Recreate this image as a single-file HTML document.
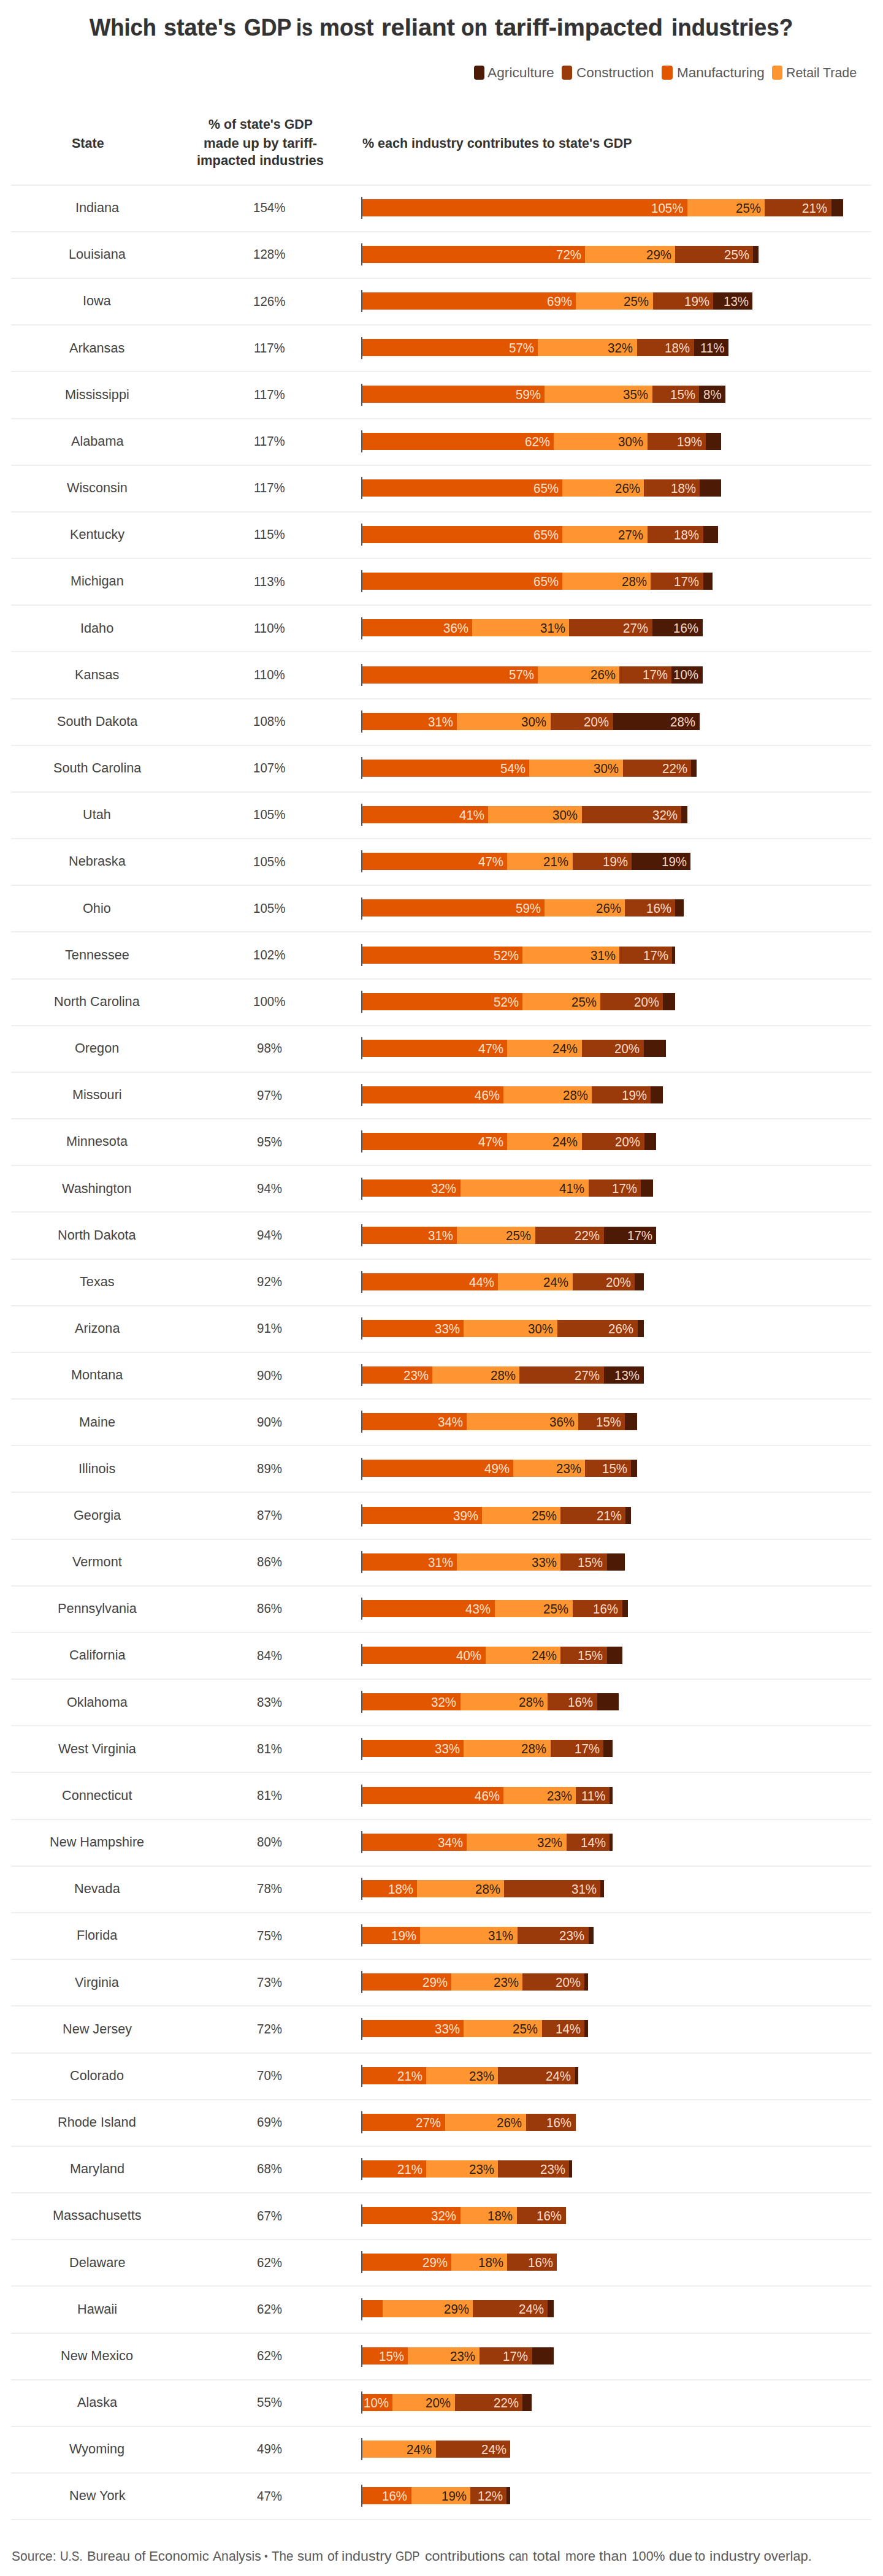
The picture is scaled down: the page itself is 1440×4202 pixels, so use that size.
<!DOCTYPE html>
<html><head><meta charset="utf-8"><style>
html,body{margin:0;padding:0;background:#fff;}
body{width:1440px;height:4202px;position:relative;overflow:hidden;font-family:"Liberation Sans",sans-serif;}
.t{position:absolute;white-space:nowrap;transform-origin:0 0;}
.sw{position:absolute;border-radius:4px;}
.sep{position:absolute;left:18px;width:1403px;height:2px;background:#efefef;}
.seg{position:absolute;height:28px;}
.tick{position:absolute;left:589px;width:2px;height:36px;background:#555;}
#wrap{position:absolute;left:0;top:0;width:1440px;height:4202px;}
</style></head><body><div id="wrap">
<div class="t" style="left:145.80px;top:25.39px;font-size:39px;line-height:39px;font-weight:700;color:#333;transform:scaleX(0.9316);-webkit-text-stroke:0.3px #333;">Which</div>
<div class="t" style="left:267.40px;top:25.39px;font-size:39px;line-height:39px;font-weight:700;color:#333;transform:scaleX(0.9664);-webkit-text-stroke:0.3px #333;">state's</div>
<div class="t" style="left:397.50px;top:25.39px;font-size:39px;line-height:39px;font-weight:700;color:#333;transform:scaleX(0.9160);-webkit-text-stroke:0.3px #333;">GDP</div>
<div class="t" style="left:483.40px;top:25.39px;font-size:39px;line-height:39px;font-weight:700;color:#333;transform:scaleX(0.8369);-webkit-text-stroke:0.3px #333;">is</div>
<div class="t" style="left:520.80px;top:25.39px;font-size:39px;line-height:39px;font-weight:700;color:#333;transform:scaleX(0.9485);-webkit-text-stroke:0.3px #333;">most</div>
<div class="t" style="left:621.90px;top:25.39px;font-size:39px;line-height:39px;font-weight:700;color:#333;transform:scaleX(1.0239);-webkit-text-stroke:0.3px #333;">reliant</div>
<div class="t" style="left:752.00px;top:25.39px;font-size:39px;line-height:39px;font-weight:700;color:#333;transform:scaleX(0.9034);-webkit-text-stroke:0.3px #333;">on</div>
<div class="t" style="left:807.20px;top:25.39px;font-size:39px;line-height:39px;font-weight:700;color:#333;transform:scaleX(1.0114);-webkit-text-stroke:0.3px #333;">tariff-impacted</div>
<div class="t" style="left:1094.80px;top:25.39px;font-size:39px;line-height:39px;font-weight:700;color:#333;transform:scaleX(0.9429);-webkit-text-stroke:0.3px #333;">industries?</div>
<div class="sw" style="left:772.6px;top:107.3px;width:17.5px;height:22.6px;background:#4c1a05"></div>
<div class="t" style="left:794.90px;top:108.08px;font-size:22px;line-height:22px;font-weight:400;color:#595959;transform:scaleX(1.0333);">Agriculture</div>
<div class="sw" style="left:915.6px;top:107.3px;width:17.5px;height:22.6px;background:#9a3a0b"></div>
<div class="t" style="left:940.10px;top:108.08px;font-size:22px;line-height:22px;font-weight:400;color:#595959;transform:scaleX(1.0219);">Construction</div>
<div class="sw" style="left:1079.0px;top:107.3px;width:17.5px;height:22.6px;background:#e25600"></div>
<div class="t" style="left:1103.50px;top:108.08px;font-size:22px;line-height:22px;font-weight:400;color:#595959;transform:scaleX(1.0237);">Manufacturing</div>
<div class="sw" style="left:1258.6px;top:107.3px;width:17.5px;height:22.6px;background:#fe9530"></div>
<div class="t" style="left:1282.40px;top:108.08px;font-size:22px;line-height:22px;font-weight:400;color:#595959;transform:scaleX(0.9696);">Retail Trade</div>
<div class="t" style="left:117.20px;top:222.98px;font-size:22px;line-height:22px;font-weight:700;color:#333;transform:scaleX(0.9777);">State</div>
<div class="t" style="left:339.80px;top:192.48px;font-size:22px;line-height:22px;font-weight:700;color:#333;transform:scaleX(0.9697);">% of state's GDP</div>
<div class="t" style="left:331.80px;top:222.78px;font-size:22px;line-height:22px;font-weight:700;color:#333;transform:scaleX(1.0033);">made up by tariff-</div>
<div class="t" style="left:321.20px;top:251.38px;font-size:22px;line-height:22px;font-weight:700;color:#333;transform:scaleX(0.9952);">impacted industries</div>
<div class="t" style="left:590.60px;top:222.78px;font-size:22px;line-height:22px;font-weight:700;color:#333;transform:scaleX(0.9765);">% each industry contributes to state's GDP</div>
<div class="sep" style="top:300.70px"></div>
<div class="t" style="left:122.74px;top:328.08px;font-size:22px;line-height:22px;font-weight:400;color:#444;transform:scaleX(0.9850);">Indiana</div>
<div class="t" style="left:413.22px;top:328.28px;font-size:22px;line-height:22px;font-weight:400;color:#444;transform:scaleX(0.9300);">154%</div>
<div class="seg" style="left:591px;top:324.80px;width:784.00px;background:#4c1a05"></div>
<div class="seg" style="left:591px;top:324.80px;width:764.50px;background:#9a3a0b"></div>
<div class="seg" style="left:591px;top:324.80px;width:656.00px;background:#fe9530"></div>
<div class="seg" style="left:591px;top:324.80px;width:530.00px;background:#e25600"></div>
<div class="t" style="left:1062.14px;top:328.78px;font-size:22px;line-height:22px;font-weight:400;color:#fde2cf;transform:scaleX(0.9300);">105%</div>
<div class="t" style="left:1199.58px;top:328.78px;font-size:22px;line-height:22px;font-weight:400;color:#2e1e0e;transform:scaleX(0.9300);">25%</div>
<div class="t" style="left:1308.08px;top:328.78px;font-size:22px;line-height:22px;font-weight:400;color:#fcdcc8;transform:scaleX(0.9300);">21%</div>
<div class="tick" style="top:321.00px"></div>
<div class="sep" style="top:376.87px"></div>
<div class="t" style="left:111.86px;top:404.25px;font-size:22px;line-height:22px;font-weight:400;color:#444;transform:scaleX(0.9850);">Louisiana</div>
<div class="t" style="left:413.22px;top:404.45px;font-size:22px;line-height:22px;font-weight:400;color:#444;transform:scaleX(0.9300);">128%</div>
<div class="seg" style="left:591px;top:400.97px;width:645.50px;background:#4c1a05"></div>
<div class="seg" style="left:591px;top:400.97px;width:637.00px;background:#9a3a0b"></div>
<div class="seg" style="left:591px;top:400.97px;width:510.00px;background:#fe9530"></div>
<div class="seg" style="left:591px;top:400.97px;width:363.00px;background:#e25600"></div>
<div class="t" style="left:906.58px;top:404.95px;font-size:22px;line-height:22px;font-weight:400;color:#fde2cf;transform:scaleX(0.9300);">72%</div>
<div class="t" style="left:1053.58px;top:404.95px;font-size:22px;line-height:22px;font-weight:400;color:#2e1e0e;transform:scaleX(0.9300);">29%</div>
<div class="t" style="left:1180.58px;top:404.95px;font-size:22px;line-height:22px;font-weight:400;color:#fcdcc8;transform:scaleX(0.9300);">25%</div>
<div class="tick" style="top:397.17px"></div>
<div class="sep" style="top:453.04px"></div>
<div class="t" style="left:135.40px;top:480.42px;font-size:22px;line-height:22px;font-weight:400;color:#444;transform:scaleX(0.9850);">Iowa</div>
<div class="t" style="left:413.22px;top:480.62px;font-size:22px;line-height:22px;font-weight:400;color:#444;transform:scaleX(0.9300);">126%</div>
<div class="seg" style="left:591px;top:477.14px;width:636.00px;background:#4c1a05"></div>
<div class="seg" style="left:591px;top:477.14px;width:572.00px;background:#9a3a0b"></div>
<div class="seg" style="left:591px;top:477.14px;width:473.70px;background:#fe9530"></div>
<div class="seg" style="left:591px;top:477.14px;width:348.00px;background:#e25600"></div>
<div class="t" style="left:891.58px;top:481.12px;font-size:22px;line-height:22px;font-weight:400;color:#fde2cf;transform:scaleX(0.9300);">69%</div>
<div class="t" style="left:1017.28px;top:481.12px;font-size:22px;line-height:22px;font-weight:400;color:#2e1e0e;transform:scaleX(0.9300);">25%</div>
<div class="t" style="left:1115.58px;top:481.12px;font-size:22px;line-height:22px;font-weight:400;color:#fcdcc8;transform:scaleX(0.9300);">19%</div>
<div class="t" style="left:1179.58px;top:481.12px;font-size:22px;line-height:22px;font-weight:400;color:#f5d6c4;transform:scaleX(0.9300);">13%</div>
<div class="tick" style="top:473.34px"></div>
<div class="sep" style="top:529.21px"></div>
<div class="t" style="left:113.14px;top:556.59px;font-size:22px;line-height:22px;font-weight:400;color:#444;transform:scaleX(0.9850);">Arkansas</div>
<div class="t" style="left:414.01px;top:556.79px;font-size:22px;line-height:22px;font-weight:400;color:#444;transform:scaleX(0.9300);">117%</div>
<div class="seg" style="left:591px;top:553.31px;width:597.00px;background:#4c1a05"></div>
<div class="seg" style="left:591px;top:553.31px;width:540.60px;background:#9a3a0b"></div>
<div class="seg" style="left:591px;top:553.31px;width:447.70px;background:#fe9530"></div>
<div class="seg" style="left:591px;top:553.31px;width:286.00px;background:#e25600"></div>
<div class="t" style="left:829.58px;top:557.29px;font-size:22px;line-height:22px;font-weight:400;color:#fde2cf;transform:scaleX(0.9300);">57%</div>
<div class="t" style="left:991.28px;top:557.29px;font-size:22px;line-height:22px;font-weight:400;color:#2e1e0e;transform:scaleX(0.9300);">32%</div>
<div class="t" style="left:1084.18px;top:557.29px;font-size:22px;line-height:22px;font-weight:400;color:#fcdcc8;transform:scaleX(0.9300);">18%</div>
<div class="t" style="left:1142.07px;top:557.29px;font-size:22px;line-height:22px;font-weight:400;color:#f5d6c4;transform:scaleX(0.9300);">11%</div>
<div class="tick" style="top:549.51px"></div>
<div class="sep" style="top:605.38px"></div>
<div class="t" style="left:105.95px;top:632.76px;font-size:22px;line-height:22px;font-weight:400;color:#444;transform:scaleX(0.9850);">Mississippi</div>
<div class="t" style="left:414.01px;top:632.96px;font-size:22px;line-height:22px;font-weight:400;color:#444;transform:scaleX(0.9300);">117%</div>
<div class="seg" style="left:591px;top:629.48px;width:591.70px;background:#4c1a05"></div>
<div class="seg" style="left:591px;top:629.48px;width:549.00px;background:#9a3a0b"></div>
<div class="seg" style="left:591px;top:629.48px;width:472.80px;background:#fe9530"></div>
<div class="seg" style="left:591px;top:629.48px;width:297.00px;background:#e25600"></div>
<div class="t" style="left:840.58px;top:633.46px;font-size:22px;line-height:22px;font-weight:400;color:#fde2cf;transform:scaleX(0.9300);">59%</div>
<div class="t" style="left:1016.38px;top:633.46px;font-size:22px;line-height:22px;font-weight:400;color:#2e1e0e;transform:scaleX(0.9300);">35%</div>
<div class="t" style="left:1092.58px;top:633.46px;font-size:22px;line-height:22px;font-weight:400;color:#fcdcc8;transform:scaleX(0.9300);">15%</div>
<div class="t" style="left:1146.63px;top:633.46px;font-size:22px;line-height:22px;font-weight:400;color:#f5d6c4;transform:scaleX(0.9300);">8%</div>
<div class="tick" style="top:625.68px"></div>
<div class="sep" style="top:681.55px"></div>
<div class="t" style="left:115.50px;top:708.93px;font-size:22px;line-height:22px;font-weight:400;color:#444;transform:scaleX(0.9850);">Alabama</div>
<div class="t" style="left:414.01px;top:709.13px;font-size:22px;line-height:22px;font-weight:400;color:#444;transform:scaleX(0.9300);">117%</div>
<div class="seg" style="left:591px;top:705.65px;width:585.00px;background:#4c1a05"></div>
<div class="seg" style="left:591px;top:705.65px;width:560.00px;background:#9a3a0b"></div>
<div class="seg" style="left:591px;top:705.65px;width:464.50px;background:#fe9530"></div>
<div class="seg" style="left:591px;top:705.65px;width:312.00px;background:#e25600"></div>
<div class="t" style="left:855.58px;top:709.63px;font-size:22px;line-height:22px;font-weight:400;color:#fde2cf;transform:scaleX(0.9300);">62%</div>
<div class="t" style="left:1008.08px;top:709.63px;font-size:22px;line-height:22px;font-weight:400;color:#2e1e0e;transform:scaleX(0.9300);">30%</div>
<div class="t" style="left:1103.58px;top:709.63px;font-size:22px;line-height:22px;font-weight:400;color:#fcdcc8;transform:scaleX(0.9300);">19%</div>
<div class="tick" style="top:701.85px"></div>
<div class="sep" style="top:757.72px"></div>
<div class="t" style="left:108.95px;top:785.10px;font-size:22px;line-height:22px;font-weight:400;color:#444;transform:scaleX(0.9850);">Wisconsin</div>
<div class="t" style="left:414.01px;top:785.30px;font-size:22px;line-height:22px;font-weight:400;color:#444;transform:scaleX(0.9300);">117%</div>
<div class="seg" style="left:591px;top:781.82px;width:585.00px;background:#4c1a05"></div>
<div class="seg" style="left:591px;top:781.82px;width:550.00px;background:#9a3a0b"></div>
<div class="seg" style="left:591px;top:781.82px;width:459.00px;background:#fe9530"></div>
<div class="seg" style="left:591px;top:781.82px;width:326.00px;background:#e25600"></div>
<div class="t" style="left:869.58px;top:785.80px;font-size:22px;line-height:22px;font-weight:400;color:#fde2cf;transform:scaleX(0.9300);">65%</div>
<div class="t" style="left:1002.58px;top:785.80px;font-size:22px;line-height:22px;font-weight:400;color:#2e1e0e;transform:scaleX(0.9300);">26%</div>
<div class="t" style="left:1093.58px;top:785.80px;font-size:22px;line-height:22px;font-weight:400;color:#fcdcc8;transform:scaleX(0.9300);">18%</div>
<div class="tick" style="top:778.02px"></div>
<div class="sep" style="top:833.89px"></div>
<div class="t" style="left:113.73px;top:861.27px;font-size:22px;line-height:22px;font-weight:400;color:#444;transform:scaleX(0.9850);">Kentucky</div>
<div class="t" style="left:414.01px;top:861.47px;font-size:22px;line-height:22px;font-weight:400;color:#444;transform:scaleX(0.9300);">115%</div>
<div class="seg" style="left:591px;top:857.99px;width:579.60px;background:#4c1a05"></div>
<div class="seg" style="left:591px;top:857.99px;width:555.50px;background:#9a3a0b"></div>
<div class="seg" style="left:591px;top:857.99px;width:464.50px;background:#fe9530"></div>
<div class="seg" style="left:591px;top:857.99px;width:326.00px;background:#e25600"></div>
<div class="t" style="left:869.58px;top:861.97px;font-size:22px;line-height:22px;font-weight:400;color:#fde2cf;transform:scaleX(0.9300);">65%</div>
<div class="t" style="left:1008.08px;top:861.97px;font-size:22px;line-height:22px;font-weight:400;color:#2e1e0e;transform:scaleX(0.9300);">27%</div>
<div class="t" style="left:1099.08px;top:861.97px;font-size:22px;line-height:22px;font-weight:400;color:#fcdcc8;transform:scaleX(0.9300);">18%</div>
<div class="tick" style="top:854.19px"></div>
<div class="sep" style="top:910.06px"></div>
<div class="t" style="left:114.96px;top:937.44px;font-size:22px;line-height:22px;font-weight:400;color:#444;transform:scaleX(0.9850);">Michigan</div>
<div class="t" style="left:414.01px;top:937.64px;font-size:22px;line-height:22px;font-weight:400;color:#444;transform:scaleX(0.9300);">113%</div>
<div class="seg" style="left:591px;top:934.16px;width:571.00px;background:#4c1a05"></div>
<div class="seg" style="left:591px;top:934.16px;width:555.50px;background:#9a3a0b"></div>
<div class="seg" style="left:591px;top:934.16px;width:470.00px;background:#fe9530"></div>
<div class="seg" style="left:591px;top:934.16px;width:326.00px;background:#e25600"></div>
<div class="t" style="left:869.58px;top:938.14px;font-size:22px;line-height:22px;font-weight:400;color:#fde2cf;transform:scaleX(0.9300);">65%</div>
<div class="t" style="left:1013.58px;top:938.14px;font-size:22px;line-height:22px;font-weight:400;color:#2e1e0e;transform:scaleX(0.9300);">28%</div>
<div class="t" style="left:1099.08px;top:938.14px;font-size:22px;line-height:22px;font-weight:400;color:#fcdcc8;transform:scaleX(0.9300);">17%</div>
<div class="tick" style="top:930.36px"></div>
<div class="sep" style="top:986.23px"></div>
<div class="t" style="left:131.16px;top:1013.61px;font-size:22px;line-height:22px;font-weight:400;color:#444;transform:scaleX(0.9850);">Idaho</div>
<div class="t" style="left:414.01px;top:1013.81px;font-size:22px;line-height:22px;font-weight:400;color:#444;transform:scaleX(0.9300);">110%</div>
<div class="seg" style="left:591px;top:1010.33px;width:554.50px;background:#4c1a05"></div>
<div class="seg" style="left:591px;top:1010.33px;width:472.80px;background:#9a3a0b"></div>
<div class="seg" style="left:591px;top:1010.33px;width:337.00px;background:#fe9530"></div>
<div class="seg" style="left:591px;top:1010.33px;width:179.40px;background:#e25600"></div>
<div class="t" style="left:722.98px;top:1014.31px;font-size:22px;line-height:22px;font-weight:400;color:#fde2cf;transform:scaleX(0.9300);">36%</div>
<div class="t" style="left:880.58px;top:1014.31px;font-size:22px;line-height:22px;font-weight:400;color:#2e1e0e;transform:scaleX(0.9300);">31%</div>
<div class="t" style="left:1016.38px;top:1014.31px;font-size:22px;line-height:22px;font-weight:400;color:#fcdcc8;transform:scaleX(0.9300);">27%</div>
<div class="t" style="left:1098.08px;top:1014.31px;font-size:22px;line-height:22px;font-weight:400;color:#f5d6c4;transform:scaleX(0.9300);">16%</div>
<div class="tick" style="top:1006.53px"></div>
<div class="sep" style="top:1062.40px"></div>
<div class="t" style="left:122.15px;top:1089.78px;font-size:22px;line-height:22px;font-weight:400;color:#444;transform:scaleX(0.9850);">Kansas</div>
<div class="t" style="left:414.01px;top:1089.98px;font-size:22px;line-height:22px;font-weight:400;color:#444;transform:scaleX(0.9300);">110%</div>
<div class="seg" style="left:591px;top:1086.50px;width:554.50px;background:#4c1a05"></div>
<div class="seg" style="left:591px;top:1086.50px;width:504.40px;background:#9a3a0b"></div>
<div class="seg" style="left:591px;top:1086.50px;width:419.00px;background:#fe9530"></div>
<div class="seg" style="left:591px;top:1086.50px;width:286.00px;background:#e25600"></div>
<div class="t" style="left:829.58px;top:1090.48px;font-size:22px;line-height:22px;font-weight:400;color:#fde2cf;transform:scaleX(0.9300);">57%</div>
<div class="t" style="left:962.58px;top:1090.48px;font-size:22px;line-height:22px;font-weight:400;color:#2e1e0e;transform:scaleX(0.9300);">26%</div>
<div class="t" style="left:1047.98px;top:1090.48px;font-size:22px;line-height:22px;font-weight:400;color:#fcdcc8;transform:scaleX(0.9300);">17%</div>
<div class="t" style="left:1098.08px;top:1090.48px;font-size:22px;line-height:22px;font-weight:400;color:#f5d6c4;transform:scaleX(0.9300);">10%</div>
<div class="tick" style="top:1082.70px"></div>
<div class="sep" style="top:1138.57px"></div>
<div class="t" style="left:92.60px;top:1165.95px;font-size:22px;line-height:22px;font-weight:400;color:#444;transform:scaleX(0.9850);">South Dakota</div>
<div class="t" style="left:413.22px;top:1166.15px;font-size:22px;line-height:22px;font-weight:400;color:#444;transform:scaleX(0.9300);">108%</div>
<div class="seg" style="left:591px;top:1162.67px;width:549.80px;background:#4c1a05"></div>
<div class="seg" style="left:591px;top:1162.67px;width:408.70px;background:#9a3a0b"></div>
<div class="seg" style="left:591px;top:1162.67px;width:306.60px;background:#fe9530"></div>
<div class="seg" style="left:591px;top:1162.67px;width:154.30px;background:#e25600"></div>
<div class="t" style="left:697.88px;top:1166.65px;font-size:22px;line-height:22px;font-weight:400;color:#fde2cf;transform:scaleX(0.9300);">31%</div>
<div class="t" style="left:850.18px;top:1166.65px;font-size:22px;line-height:22px;font-weight:400;color:#2e1e0e;transform:scaleX(0.9300);">30%</div>
<div class="t" style="left:952.28px;top:1166.65px;font-size:22px;line-height:22px;font-weight:400;color:#fcdcc8;transform:scaleX(0.9300);">20%</div>
<div class="t" style="left:1093.38px;top:1166.65px;font-size:22px;line-height:22px;font-weight:400;color:#f5d6c4;transform:scaleX(0.9300);">28%</div>
<div class="tick" style="top:1158.87px"></div>
<div class="sep" style="top:1214.74px"></div>
<div class="t" style="left:86.59px;top:1242.12px;font-size:22px;line-height:22px;font-weight:400;color:#444;transform:scaleX(0.9850);">South Carolina</div>
<div class="t" style="left:413.22px;top:1242.32px;font-size:22px;line-height:22px;font-weight:400;color:#444;transform:scaleX(0.9300);">107%</div>
<div class="seg" style="left:591px;top:1238.84px;width:545.00px;background:#4c1a05"></div>
<div class="seg" style="left:591px;top:1238.84px;width:536.00px;background:#9a3a0b"></div>
<div class="seg" style="left:591px;top:1238.84px;width:424.50px;background:#fe9530"></div>
<div class="seg" style="left:591px;top:1238.84px;width:272.20px;background:#e25600"></div>
<div class="t" style="left:815.78px;top:1242.82px;font-size:22px;line-height:22px;font-weight:400;color:#fde2cf;transform:scaleX(0.9300);">54%</div>
<div class="t" style="left:968.08px;top:1242.82px;font-size:22px;line-height:22px;font-weight:400;color:#2e1e0e;transform:scaleX(0.9300);">30%</div>
<div class="t" style="left:1079.58px;top:1242.82px;font-size:22px;line-height:22px;font-weight:400;color:#fcdcc8;transform:scaleX(0.9300);">22%</div>
<div class="tick" style="top:1235.04px"></div>
<div class="sep" style="top:1290.91px"></div>
<div class="t" style="left:135.40px;top:1318.29px;font-size:22px;line-height:22px;font-weight:400;color:#444;transform:scaleX(0.9850);">Utah</div>
<div class="t" style="left:413.22px;top:1318.49px;font-size:22px;line-height:22px;font-weight:400;color:#444;transform:scaleX(0.9300);">105%</div>
<div class="seg" style="left:591px;top:1315.01px;width:529.50px;background:#4c1a05"></div>
<div class="seg" style="left:591px;top:1315.01px;width:520.00px;background:#9a3a0b"></div>
<div class="seg" style="left:591px;top:1315.01px;width:357.70px;background:#fe9530"></div>
<div class="seg" style="left:591px;top:1315.01px;width:205.40px;background:#e25600"></div>
<div class="t" style="left:748.98px;top:1318.99px;font-size:22px;line-height:22px;font-weight:400;color:#fde2cf;transform:scaleX(0.9300);">41%</div>
<div class="t" style="left:901.28px;top:1318.99px;font-size:22px;line-height:22px;font-weight:400;color:#2e1e0e;transform:scaleX(0.9300);">30%</div>
<div class="t" style="left:1063.58px;top:1318.99px;font-size:22px;line-height:22px;font-weight:400;color:#fcdcc8;transform:scaleX(0.9300);">32%</div>
<div class="tick" style="top:1311.21px"></div>
<div class="sep" style="top:1367.08px"></div>
<div class="t" style="left:111.91px;top:1394.46px;font-size:22px;line-height:22px;font-weight:400;color:#444;transform:scaleX(0.9850);">Nebraska</div>
<div class="t" style="left:413.22px;top:1394.66px;font-size:22px;line-height:22px;font-weight:400;color:#444;transform:scaleX(0.9300);">105%</div>
<div class="seg" style="left:591px;top:1391.18px;width:535.00px;background:#4c1a05"></div>
<div class="seg" style="left:591px;top:1391.18px;width:439.40px;background:#9a3a0b"></div>
<div class="seg" style="left:591px;top:1391.18px;width:342.80px;background:#fe9530"></div>
<div class="seg" style="left:591px;top:1391.18px;width:236.00px;background:#e25600"></div>
<div class="t" style="left:779.58px;top:1395.16px;font-size:22px;line-height:22px;font-weight:400;color:#fde2cf;transform:scaleX(0.9300);">47%</div>
<div class="t" style="left:886.38px;top:1395.16px;font-size:22px;line-height:22px;font-weight:400;color:#2e1e0e;transform:scaleX(0.9300);">21%</div>
<div class="t" style="left:982.98px;top:1395.16px;font-size:22px;line-height:22px;font-weight:400;color:#fcdcc8;transform:scaleX(0.9300);">19%</div>
<div class="t" style="left:1078.58px;top:1395.16px;font-size:22px;line-height:22px;font-weight:400;color:#f5d6c4;transform:scaleX(0.9300);">19%</div>
<div class="tick" style="top:1387.38px"></div>
<div class="sep" style="top:1443.25px"></div>
<div class="t" style="left:135.40px;top:1470.63px;font-size:22px;line-height:22px;font-weight:400;color:#444;transform:scaleX(0.9850);">Ohio</div>
<div class="t" style="left:413.22px;top:1470.83px;font-size:22px;line-height:22px;font-weight:400;color:#444;transform:scaleX(0.9300);">105%</div>
<div class="seg" style="left:591px;top:1467.35px;width:524.00px;background:#4c1a05"></div>
<div class="seg" style="left:591px;top:1467.35px;width:510.00px;background:#9a3a0b"></div>
<div class="seg" style="left:591px;top:1467.35px;width:428.20px;background:#fe9530"></div>
<div class="seg" style="left:591px;top:1467.35px;width:297.30px;background:#e25600"></div>
<div class="t" style="left:840.88px;top:1471.33px;font-size:22px;line-height:22px;font-weight:400;color:#fde2cf;transform:scaleX(0.9300);">59%</div>
<div class="t" style="left:971.78px;top:1471.33px;font-size:22px;line-height:22px;font-weight:400;color:#2e1e0e;transform:scaleX(0.9300);">26%</div>
<div class="t" style="left:1053.58px;top:1471.33px;font-size:22px;line-height:22px;font-weight:400;color:#fcdcc8;transform:scaleX(0.9300);">16%</div>
<div class="tick" style="top:1463.55px"></div>
<div class="sep" style="top:1519.42px"></div>
<div class="t" style="left:105.90px;top:1546.80px;font-size:22px;line-height:22px;font-weight:400;color:#444;transform:scaleX(0.9850);">Tennessee</div>
<div class="t" style="left:413.22px;top:1547.00px;font-size:22px;line-height:22px;font-weight:400;color:#444;transform:scaleX(0.9300);">102%</div>
<div class="seg" style="left:591px;top:1543.52px;width:510.00px;background:#4c1a05"></div>
<div class="seg" style="left:591px;top:1543.52px;width:505.30px;background:#9a3a0b"></div>
<div class="seg" style="left:591px;top:1543.52px;width:419.00px;background:#fe9530"></div>
<div class="seg" style="left:591px;top:1543.52px;width:261.00px;background:#e25600"></div>
<div class="t" style="left:804.58px;top:1547.50px;font-size:22px;line-height:22px;font-weight:400;color:#fde2cf;transform:scaleX(0.9300);">52%</div>
<div class="t" style="left:962.58px;top:1547.50px;font-size:22px;line-height:22px;font-weight:400;color:#2e1e0e;transform:scaleX(0.9300);">31%</div>
<div class="t" style="left:1048.88px;top:1547.50px;font-size:22px;line-height:22px;font-weight:400;color:#fcdcc8;transform:scaleX(0.9300);">17%</div>
<div class="tick" style="top:1539.72px"></div>
<div class="sep" style="top:1595.59px"></div>
<div class="t" style="left:88.41px;top:1622.97px;font-size:22px;line-height:22px;font-weight:400;color:#444;transform:scaleX(0.9850);">North Carolina</div>
<div class="t" style="left:413.22px;top:1623.17px;font-size:22px;line-height:22px;font-weight:400;color:#444;transform:scaleX(0.9300);">100%</div>
<div class="seg" style="left:591px;top:1619.69px;width:510.00px;background:#4c1a05"></div>
<div class="seg" style="left:591px;top:1619.69px;width:490.40px;background:#9a3a0b"></div>
<div class="seg" style="left:591px;top:1619.69px;width:388.30px;background:#fe9530"></div>
<div class="seg" style="left:591px;top:1619.69px;width:261.00px;background:#e25600"></div>
<div class="t" style="left:804.58px;top:1623.67px;font-size:22px;line-height:22px;font-weight:400;color:#fde2cf;transform:scaleX(0.9300);">52%</div>
<div class="t" style="left:931.88px;top:1623.67px;font-size:22px;line-height:22px;font-weight:400;color:#2e1e0e;transform:scaleX(0.9300);">25%</div>
<div class="t" style="left:1033.98px;top:1623.67px;font-size:22px;line-height:22px;font-weight:400;color:#fcdcc8;transform:scaleX(0.9300);">20%</div>
<div class="tick" style="top:1615.89px"></div>
<div class="sep" style="top:1671.76px"></div>
<div class="t" style="left:122.15px;top:1699.14px;font-size:22px;line-height:22px;font-weight:400;color:#444;transform:scaleX(0.9850);">Oregon</div>
<div class="t" style="left:418.94px;top:1699.34px;font-size:22px;line-height:22px;font-weight:400;color:#444;transform:scaleX(0.9300);">98%</div>
<div class="seg" style="left:591px;top:1695.86px;width:495.00px;background:#4c1a05"></div>
<div class="seg" style="left:591px;top:1695.86px;width:458.80px;background:#9a3a0b"></div>
<div class="seg" style="left:591px;top:1695.86px;width:357.60px;background:#fe9530"></div>
<div class="seg" style="left:591px;top:1695.86px;width:236.00px;background:#e25600"></div>
<div class="t" style="left:779.58px;top:1699.84px;font-size:22px;line-height:22px;font-weight:400;color:#fde2cf;transform:scaleX(0.9300);">47%</div>
<div class="t" style="left:901.18px;top:1699.84px;font-size:22px;line-height:22px;font-weight:400;color:#2e1e0e;transform:scaleX(0.9300);">24%</div>
<div class="t" style="left:1002.38px;top:1699.84px;font-size:22px;line-height:22px;font-weight:400;color:#fcdcc8;transform:scaleX(0.9300);">20%</div>
<div class="tick" style="top:1692.06px"></div>
<div class="sep" style="top:1747.93px"></div>
<div class="t" style="left:117.96px;top:1775.31px;font-size:22px;line-height:22px;font-weight:400;color:#444;transform:scaleX(0.9850);">Missouri</div>
<div class="t" style="left:418.94px;top:1775.51px;font-size:22px;line-height:22px;font-weight:400;color:#444;transform:scaleX(0.9300);">97%</div>
<div class="seg" style="left:591px;top:1772.03px;width:489.50px;background:#4c1a05"></div>
<div class="seg" style="left:591px;top:1772.03px;width:470.00px;background:#9a3a0b"></div>
<div class="seg" style="left:591px;top:1772.03px;width:374.30px;background:#fe9530"></div>
<div class="seg" style="left:591px;top:1772.03px;width:230.40px;background:#e25600"></div>
<div class="t" style="left:773.98px;top:1776.01px;font-size:22px;line-height:22px;font-weight:400;color:#fde2cf;transform:scaleX(0.9300);">46%</div>
<div class="t" style="left:917.88px;top:1776.01px;font-size:22px;line-height:22px;font-weight:400;color:#2e1e0e;transform:scaleX(0.9300);">28%</div>
<div class="t" style="left:1013.58px;top:1776.01px;font-size:22px;line-height:22px;font-weight:400;color:#fcdcc8;transform:scaleX(0.9300);">19%</div>
<div class="tick" style="top:1768.23px"></div>
<div class="sep" style="top:1824.10px"></div>
<div class="t" style="left:108.26px;top:1851.48px;font-size:22px;line-height:22px;font-weight:400;color:#444;transform:scaleX(0.9850);">Minnesota</div>
<div class="t" style="left:418.94px;top:1851.68px;font-size:22px;line-height:22px;font-weight:400;color:#444;transform:scaleX(0.9300);">95%</div>
<div class="seg" style="left:591px;top:1848.20px;width:479.30px;background:#4c1a05"></div>
<div class="seg" style="left:591px;top:1848.20px;width:459.80px;background:#9a3a0b"></div>
<div class="seg" style="left:591px;top:1848.20px;width:357.60px;background:#fe9530"></div>
<div class="seg" style="left:591px;top:1848.20px;width:236.00px;background:#e25600"></div>
<div class="t" style="left:779.58px;top:1852.18px;font-size:22px;line-height:22px;font-weight:400;color:#fde2cf;transform:scaleX(0.9300);">47%</div>
<div class="t" style="left:901.18px;top:1852.18px;font-size:22px;line-height:22px;font-weight:400;color:#2e1e0e;transform:scaleX(0.9300);">24%</div>
<div class="t" style="left:1003.38px;top:1852.18px;font-size:22px;line-height:22px;font-weight:400;color:#fcdcc8;transform:scaleX(0.9300);">20%</div>
<div class="tick" style="top:1844.40px"></div>
<div class="sep" style="top:1900.27px"></div>
<div class="t" style="left:101.47px;top:1927.65px;font-size:22px;line-height:22px;font-weight:400;color:#444;transform:scaleX(0.9850);">Washington</div>
<div class="t" style="left:418.94px;top:1927.85px;font-size:22px;line-height:22px;font-weight:400;color:#444;transform:scaleX(0.9300);">94%</div>
<div class="seg" style="left:591px;top:1924.37px;width:473.70px;background:#4c1a05"></div>
<div class="seg" style="left:591px;top:1924.37px;width:454.20px;background:#9a3a0b"></div>
<div class="seg" style="left:591px;top:1924.37px;width:368.80px;background:#fe9530"></div>
<div class="seg" style="left:591px;top:1924.37px;width:159.90px;background:#e25600"></div>
<div class="t" style="left:703.48px;top:1928.35px;font-size:22px;line-height:22px;font-weight:400;color:#fde2cf;transform:scaleX(0.9300);">32%</div>
<div class="t" style="left:912.38px;top:1928.35px;font-size:22px;line-height:22px;font-weight:400;color:#2e1e0e;transform:scaleX(0.9300);">41%</div>
<div class="t" style="left:997.78px;top:1928.35px;font-size:22px;line-height:22px;font-weight:400;color:#fcdcc8;transform:scaleX(0.9300);">17%</div>
<div class="tick" style="top:1920.57px"></div>
<div class="sep" style="top:1976.44px"></div>
<div class="t" style="left:94.42px;top:2003.82px;font-size:22px;line-height:22px;font-weight:400;color:#444;transform:scaleX(0.9850);">North Dakota</div>
<div class="t" style="left:418.94px;top:2004.02px;font-size:22px;line-height:22px;font-weight:400;color:#444;transform:scaleX(0.9300);">94%</div>
<div class="seg" style="left:591px;top:2000.54px;width:479.30px;background:#4c1a05"></div>
<div class="seg" style="left:591px;top:2000.54px;width:393.80px;background:#9a3a0b"></div>
<div class="seg" style="left:591px;top:2000.54px;width:281.50px;background:#fe9530"></div>
<div class="seg" style="left:591px;top:2000.54px;width:154.30px;background:#e25600"></div>
<div class="t" style="left:697.88px;top:2004.52px;font-size:22px;line-height:22px;font-weight:400;color:#fde2cf;transform:scaleX(0.9300);">31%</div>
<div class="t" style="left:825.08px;top:2004.52px;font-size:22px;line-height:22px;font-weight:400;color:#2e1e0e;transform:scaleX(0.9300);">25%</div>
<div class="t" style="left:937.38px;top:2004.52px;font-size:22px;line-height:22px;font-weight:400;color:#fcdcc8;transform:scaleX(0.9300);">22%</div>
<div class="t" style="left:1022.88px;top:2004.52px;font-size:22px;line-height:22px;font-weight:400;color:#f5d6c4;transform:scaleX(0.9300);">17%</div>
<div class="tick" style="top:1996.74px"></div>
<div class="sep" style="top:2052.61px"></div>
<div class="t" style="left:129.98px;top:2079.99px;font-size:22px;line-height:22px;font-weight:400;color:#444;transform:scaleX(0.9850);">Texas</div>
<div class="t" style="left:418.94px;top:2080.19px;font-size:22px;line-height:22px;font-weight:400;color:#444;transform:scaleX(0.9300);">92%</div>
<div class="seg" style="left:591px;top:2076.71px;width:458.80px;background:#4c1a05"></div>
<div class="seg" style="left:591px;top:2076.71px;width:444.00px;background:#9a3a0b"></div>
<div class="seg" style="left:591px;top:2076.71px;width:342.80px;background:#fe9530"></div>
<div class="seg" style="left:591px;top:2076.71px;width:221.10px;background:#e25600"></div>
<div class="t" style="left:764.68px;top:2080.69px;font-size:22px;line-height:22px;font-weight:400;color:#fde2cf;transform:scaleX(0.9300);">44%</div>
<div class="t" style="left:886.38px;top:2080.69px;font-size:22px;line-height:22px;font-weight:400;color:#2e1e0e;transform:scaleX(0.9300);">24%</div>
<div class="t" style="left:987.58px;top:2080.69px;font-size:22px;line-height:22px;font-weight:400;color:#fcdcc8;transform:scaleX(0.9300);">20%</div>
<div class="tick" style="top:2072.91px"></div>
<div class="sep" style="top:2128.78px"></div>
<div class="t" style="left:121.51px;top:2156.16px;font-size:22px;line-height:22px;font-weight:400;color:#444;transform:scaleX(0.9850);">Arizona</div>
<div class="t" style="left:418.94px;top:2156.36px;font-size:22px;line-height:22px;font-weight:400;color:#444;transform:scaleX(0.9300);">91%</div>
<div class="seg" style="left:591px;top:2152.88px;width:458.80px;background:#4c1a05"></div>
<div class="seg" style="left:591px;top:2152.88px;width:448.60px;background:#9a3a0b"></div>
<div class="seg" style="left:591px;top:2152.88px;width:317.70px;background:#fe9530"></div>
<div class="seg" style="left:591px;top:2152.88px;width:165.40px;background:#e25600"></div>
<div class="t" style="left:708.98px;top:2156.86px;font-size:22px;line-height:22px;font-weight:400;color:#fde2cf;transform:scaleX(0.9300);">33%</div>
<div class="t" style="left:861.28px;top:2156.86px;font-size:22px;line-height:22px;font-weight:400;color:#2e1e0e;transform:scaleX(0.9300);">30%</div>
<div class="t" style="left:992.18px;top:2156.86px;font-size:22px;line-height:22px;font-weight:400;color:#fcdcc8;transform:scaleX(0.9300);">26%</div>
<div class="tick" style="top:2149.08px"></div>
<div class="sep" style="top:2204.95px"></div>
<div class="t" style="left:116.09px;top:2232.33px;font-size:22px;line-height:22px;font-weight:400;color:#444;transform:scaleX(0.9850);">Montana</div>
<div class="t" style="left:418.94px;top:2232.53px;font-size:22px;line-height:22px;font-weight:400;color:#444;transform:scaleX(0.9300);">90%</div>
<div class="seg" style="left:591px;top:2229.05px;width:458.80px;background:#4c1a05"></div>
<div class="seg" style="left:591px;top:2229.05px;width:393.80px;background:#9a3a0b"></div>
<div class="seg" style="left:591px;top:2229.05px;width:256.40px;background:#fe9530"></div>
<div class="seg" style="left:591px;top:2229.05px;width:114.40px;background:#e25600"></div>
<div class="t" style="left:657.98px;top:2233.03px;font-size:22px;line-height:22px;font-weight:400;color:#fde2cf;transform:scaleX(0.9300);">23%</div>
<div class="t" style="left:799.98px;top:2233.03px;font-size:22px;line-height:22px;font-weight:400;color:#2e1e0e;transform:scaleX(0.9300);">28%</div>
<div class="t" style="left:937.38px;top:2233.03px;font-size:22px;line-height:22px;font-weight:400;color:#fcdcc8;transform:scaleX(0.9300);">27%</div>
<div class="t" style="left:1002.38px;top:2233.03px;font-size:22px;line-height:22px;font-weight:400;color:#f5d6c4;transform:scaleX(0.9300);">13%</div>
<div class="tick" style="top:2225.25px"></div>
<div class="sep" style="top:2281.12px"></div>
<div class="t" style="left:128.80px;top:2308.50px;font-size:22px;line-height:22px;font-weight:400;color:#444;transform:scaleX(0.9850);">Maine</div>
<div class="t" style="left:418.94px;top:2308.70px;font-size:22px;line-height:22px;font-weight:400;color:#444;transform:scaleX(0.9300);">90%</div>
<div class="seg" style="left:591px;top:2305.22px;width:447.70px;background:#4c1a05"></div>
<div class="seg" style="left:591px;top:2305.22px;width:428.20px;background:#9a3a0b"></div>
<div class="seg" style="left:591px;top:2305.22px;width:352.00px;background:#fe9530"></div>
<div class="seg" style="left:591px;top:2305.22px;width:170.00px;background:#e25600"></div>
<div class="t" style="left:713.58px;top:2309.20px;font-size:22px;line-height:22px;font-weight:400;color:#fde2cf;transform:scaleX(0.9300);">34%</div>
<div class="t" style="left:895.58px;top:2309.20px;font-size:22px;line-height:22px;font-weight:400;color:#2e1e0e;transform:scaleX(0.9300);">36%</div>
<div class="t" style="left:971.78px;top:2309.20px;font-size:22px;line-height:22px;font-weight:400;color:#fcdcc8;transform:scaleX(0.9300);">15%</div>
<div class="tick" style="top:2301.42px"></div>
<div class="sep" style="top:2357.29px"></div>
<div class="t" style="left:128.21px;top:2384.67px;font-size:22px;line-height:22px;font-weight:400;color:#444;transform:scaleX(0.9850);">Illinois</div>
<div class="t" style="left:418.94px;top:2384.87px;font-size:22px;line-height:22px;font-weight:400;color:#444;transform:scaleX(0.9300);">89%</div>
<div class="seg" style="left:591px;top:2381.39px;width:447.70px;background:#4c1a05"></div>
<div class="seg" style="left:591px;top:2381.39px;width:438.40px;background:#9a3a0b"></div>
<div class="seg" style="left:591px;top:2381.39px;width:363.20px;background:#fe9530"></div>
<div class="seg" style="left:591px;top:2381.39px;width:246.20px;background:#e25600"></div>
<div class="t" style="left:789.78px;top:2385.37px;font-size:22px;line-height:22px;font-weight:400;color:#fde2cf;transform:scaleX(0.9300);">49%</div>
<div class="t" style="left:906.78px;top:2385.37px;font-size:22px;line-height:22px;font-weight:400;color:#2e1e0e;transform:scaleX(0.9300);">23%</div>
<div class="t" style="left:981.98px;top:2385.37px;font-size:22px;line-height:22px;font-weight:400;color:#fcdcc8;transform:scaleX(0.9300);">15%</div>
<div class="tick" style="top:2377.59px"></div>
<div class="sep" style="top:2433.46px"></div>
<div class="t" style="left:119.74px;top:2460.84px;font-size:22px;line-height:22px;font-weight:400;color:#444;transform:scaleX(0.9850);">Georgia</div>
<div class="t" style="left:418.94px;top:2461.04px;font-size:22px;line-height:22px;font-weight:400;color:#444;transform:scaleX(0.9300);">87%</div>
<div class="seg" style="left:591px;top:2457.56px;width:438.40px;background:#4c1a05"></div>
<div class="seg" style="left:591px;top:2457.56px;width:429.00px;background:#9a3a0b"></div>
<div class="seg" style="left:591px;top:2457.56px;width:323.30px;background:#fe9530"></div>
<div class="seg" style="left:591px;top:2457.56px;width:195.10px;background:#e25600"></div>
<div class="t" style="left:738.68px;top:2461.54px;font-size:22px;line-height:22px;font-weight:400;color:#fde2cf;transform:scaleX(0.9300);">39%</div>
<div class="t" style="left:866.88px;top:2461.54px;font-size:22px;line-height:22px;font-weight:400;color:#2e1e0e;transform:scaleX(0.9300);">25%</div>
<div class="t" style="left:972.58px;top:2461.54px;font-size:22px;line-height:22px;font-weight:400;color:#fcdcc8;transform:scaleX(0.9300);">21%</div>
<div class="tick" style="top:2453.76px"></div>
<div class="sep" style="top:2509.63px"></div>
<div class="t" style="left:117.96px;top:2537.01px;font-size:22px;line-height:22px;font-weight:400;color:#444;transform:scaleX(0.9850);">Vermont</div>
<div class="t" style="left:418.94px;top:2537.21px;font-size:22px;line-height:22px;font-weight:400;color:#444;transform:scaleX(0.9300);">86%</div>
<div class="seg" style="left:591px;top:2533.73px;width:428.20px;background:#4c1a05"></div>
<div class="seg" style="left:591px;top:2533.73px;width:398.50px;background:#9a3a0b"></div>
<div class="seg" style="left:591px;top:2533.73px;width:323.30px;background:#fe9530"></div>
<div class="seg" style="left:591px;top:2533.73px;width:154.30px;background:#e25600"></div>
<div class="t" style="left:697.88px;top:2537.71px;font-size:22px;line-height:22px;font-weight:400;color:#fde2cf;transform:scaleX(0.9300);">31%</div>
<div class="t" style="left:866.88px;top:2537.71px;font-size:22px;line-height:22px;font-weight:400;color:#2e1e0e;transform:scaleX(0.9300);">33%</div>
<div class="t" style="left:942.08px;top:2537.71px;font-size:22px;line-height:22px;font-weight:400;color:#fcdcc8;transform:scaleX(0.9300);">15%</div>
<div class="tick" style="top:2529.93px"></div>
<div class="sep" style="top:2585.80px"></div>
<div class="t" style="left:93.83px;top:2613.18px;font-size:22px;line-height:22px;font-weight:400;color:#444;transform:scaleX(0.9850);">Pennsylvania</div>
<div class="t" style="left:418.94px;top:2613.38px;font-size:22px;line-height:22px;font-weight:400;color:#444;transform:scaleX(0.9300);">86%</div>
<div class="seg" style="left:591px;top:2609.90px;width:432.80px;background:#4c1a05"></div>
<div class="seg" style="left:591px;top:2609.90px;width:423.50px;background:#9a3a0b"></div>
<div class="seg" style="left:591px;top:2609.90px;width:342.80px;background:#fe9530"></div>
<div class="seg" style="left:591px;top:2609.90px;width:215.60px;background:#e25600"></div>
<div class="t" style="left:759.18px;top:2613.88px;font-size:22px;line-height:22px;font-weight:400;color:#fde2cf;transform:scaleX(0.9300);">43%</div>
<div class="t" style="left:886.38px;top:2613.88px;font-size:22px;line-height:22px;font-weight:400;color:#2e1e0e;transform:scaleX(0.9300);">25%</div>
<div class="t" style="left:967.08px;top:2613.88px;font-size:22px;line-height:22px;font-weight:400;color:#fcdcc8;transform:scaleX(0.9300);">16%</div>
<div class="tick" style="top:2606.10px"></div>
<div class="sep" style="top:2661.97px"></div>
<div class="t" style="left:112.50px;top:2689.35px;font-size:22px;line-height:22px;font-weight:400;color:#444;transform:scaleX(0.9850);">California</div>
<div class="t" style="left:418.94px;top:2689.55px;font-size:22px;line-height:22px;font-weight:400;color:#444;transform:scaleX(0.9300);">84%</div>
<div class="seg" style="left:591px;top:2686.07px;width:423.50px;background:#4c1a05"></div>
<div class="seg" style="left:591px;top:2686.07px;width:398.50px;background:#9a3a0b"></div>
<div class="seg" style="left:591px;top:2686.07px;width:323.30px;background:#fe9530"></div>
<div class="seg" style="left:591px;top:2686.07px;width:200.70px;background:#e25600"></div>
<div class="t" style="left:744.28px;top:2690.05px;font-size:22px;line-height:22px;font-weight:400;color:#fde2cf;transform:scaleX(0.9300);">40%</div>
<div class="t" style="left:866.88px;top:2690.05px;font-size:22px;line-height:22px;font-weight:400;color:#2e1e0e;transform:scaleX(0.9300);">24%</div>
<div class="t" style="left:942.08px;top:2690.05px;font-size:22px;line-height:22px;font-weight:400;color:#fcdcc8;transform:scaleX(0.9300);">15%</div>
<div class="tick" style="top:2682.27px"></div>
<div class="sep" style="top:2738.14px"></div>
<div class="t" style="left:108.90px;top:2765.52px;font-size:22px;line-height:22px;font-weight:400;color:#444;transform:scaleX(0.9850);">Oklahoma</div>
<div class="t" style="left:418.94px;top:2765.72px;font-size:22px;line-height:22px;font-weight:400;color:#444;transform:scaleX(0.9300);">83%</div>
<div class="seg" style="left:591px;top:2762.24px;width:418.00px;background:#4c1a05"></div>
<div class="seg" style="left:591px;top:2762.24px;width:382.70px;background:#9a3a0b"></div>
<div class="seg" style="left:591px;top:2762.24px;width:302.00px;background:#fe9530"></div>
<div class="seg" style="left:591px;top:2762.24px;width:159.90px;background:#e25600"></div>
<div class="t" style="left:703.48px;top:2766.22px;font-size:22px;line-height:22px;font-weight:400;color:#fde2cf;transform:scaleX(0.9300);">32%</div>
<div class="t" style="left:845.58px;top:2766.22px;font-size:22px;line-height:22px;font-weight:400;color:#2e1e0e;transform:scaleX(0.9300);">28%</div>
<div class="t" style="left:926.28px;top:2766.22px;font-size:22px;line-height:22px;font-weight:400;color:#fcdcc8;transform:scaleX(0.9300);">16%</div>
<div class="tick" style="top:2758.44px"></div>
<div class="sep" style="top:2814.31px"></div>
<div class="t" style="left:94.82px;top:2841.69px;font-size:22px;line-height:22px;font-weight:400;color:#444;transform:scaleX(0.9850);">West Virginia</div>
<div class="t" style="left:418.94px;top:2841.89px;font-size:22px;line-height:22px;font-weight:400;color:#444;transform:scaleX(0.9300);">81%</div>
<div class="seg" style="left:591px;top:2838.41px;width:407.80px;background:#4c1a05"></div>
<div class="seg" style="left:591px;top:2838.41px;width:393.00px;background:#9a3a0b"></div>
<div class="seg" style="left:591px;top:2838.41px;width:306.60px;background:#fe9530"></div>
<div class="seg" style="left:591px;top:2838.41px;width:165.40px;background:#e25600"></div>
<div class="t" style="left:708.98px;top:2842.39px;font-size:22px;line-height:22px;font-weight:400;color:#fde2cf;transform:scaleX(0.9300);">33%</div>
<div class="t" style="left:850.18px;top:2842.39px;font-size:22px;line-height:22px;font-weight:400;color:#2e1e0e;transform:scaleX(0.9300);">28%</div>
<div class="t" style="left:936.58px;top:2842.39px;font-size:22px;line-height:22px;font-weight:400;color:#fcdcc8;transform:scaleX(0.9300);">17%</div>
<div class="tick" style="top:2834.61px"></div>
<div class="sep" style="top:2890.48px"></div>
<div class="t" style="left:101.07px;top:2917.86px;font-size:22px;line-height:22px;font-weight:400;color:#444;transform:scaleX(0.9850);">Connecticut</div>
<div class="t" style="left:418.94px;top:2918.06px;font-size:22px;line-height:22px;font-weight:400;color:#444;transform:scaleX(0.9300);">81%</div>
<div class="seg" style="left:591px;top:2914.58px;width:407.80px;background:#4c1a05"></div>
<div class="seg" style="left:591px;top:2914.58px;width:403.00px;background:#9a3a0b"></div>
<div class="seg" style="left:591px;top:2914.58px;width:348.30px;background:#fe9530"></div>
<div class="seg" style="left:591px;top:2914.58px;width:230.40px;background:#e25600"></div>
<div class="t" style="left:773.98px;top:2918.56px;font-size:22px;line-height:22px;font-weight:400;color:#fde2cf;transform:scaleX(0.9300);">46%</div>
<div class="t" style="left:891.88px;top:2918.56px;font-size:22px;line-height:22px;font-weight:400;color:#2e1e0e;transform:scaleX(0.9300);">23%</div>
<div class="t" style="left:948.07px;top:2918.56px;font-size:22px;line-height:22px;font-weight:400;color:#fcdcc8;transform:scaleX(0.9300);">11%</div>
<div class="tick" style="top:2910.78px"></div>
<div class="sep" style="top:2966.65px"></div>
<div class="t" style="left:81.22px;top:2994.03px;font-size:22px;line-height:22px;font-weight:400;color:#444;transform:scaleX(0.9850);">New Hampshire</div>
<div class="t" style="left:418.94px;top:2994.23px;font-size:22px;line-height:22px;font-weight:400;color:#444;transform:scaleX(0.9300);">80%</div>
<div class="seg" style="left:591px;top:2990.75px;width:407.80px;background:#4c1a05"></div>
<div class="seg" style="left:591px;top:2990.75px;width:403.00px;background:#9a3a0b"></div>
<div class="seg" style="left:591px;top:2990.75px;width:332.50px;background:#fe9530"></div>
<div class="seg" style="left:591px;top:2990.75px;width:170.00px;background:#e25600"></div>
<div class="t" style="left:713.58px;top:2994.73px;font-size:22px;line-height:22px;font-weight:400;color:#fde2cf;transform:scaleX(0.9300);">34%</div>
<div class="t" style="left:876.08px;top:2994.73px;font-size:22px;line-height:22px;font-weight:400;color:#2e1e0e;transform:scaleX(0.9300);">32%</div>
<div class="t" style="left:946.58px;top:2994.73px;font-size:22px;line-height:22px;font-weight:400;color:#fcdcc8;transform:scaleX(0.9300);">14%</div>
<div class="tick" style="top:2986.95px"></div>
<div class="sep" style="top:3042.82px"></div>
<div class="t" style="left:120.92px;top:3070.20px;font-size:22px;line-height:22px;font-weight:400;color:#444;transform:scaleX(0.9850);">Nevada</div>
<div class="t" style="left:418.94px;top:3070.40px;font-size:22px;line-height:22px;font-weight:400;color:#444;transform:scaleX(0.9300);">78%</div>
<div class="seg" style="left:591px;top:3066.92px;width:393.80px;background:#4c1a05"></div>
<div class="seg" style="left:591px;top:3066.92px;width:388.30px;background:#9a3a0b"></div>
<div class="seg" style="left:591px;top:3066.92px;width:231.30px;background:#fe9530"></div>
<div class="seg" style="left:591px;top:3066.92px;width:89.30px;background:#e25600"></div>
<div class="t" style="left:632.88px;top:3070.90px;font-size:22px;line-height:22px;font-weight:400;color:#fde2cf;transform:scaleX(0.9300);">18%</div>
<div class="t" style="left:774.88px;top:3070.90px;font-size:22px;line-height:22px;font-weight:400;color:#2e1e0e;transform:scaleX(0.9300);">28%</div>
<div class="t" style="left:931.88px;top:3070.90px;font-size:22px;line-height:22px;font-weight:400;color:#fcdcc8;transform:scaleX(0.9300);">31%</div>
<div class="tick" style="top:3063.12px"></div>
<div class="sep" style="top:3118.99px"></div>
<div class="t" style="left:125.15px;top:3146.37px;font-size:22px;line-height:22px;font-weight:400;color:#444;transform:scaleX(0.9850);">Florida</div>
<div class="t" style="left:418.94px;top:3146.57px;font-size:22px;line-height:22px;font-weight:400;color:#444;transform:scaleX(0.9300);">75%</div>
<div class="seg" style="left:591px;top:3143.09px;width:377.00px;background:#4c1a05"></div>
<div class="seg" style="left:591px;top:3143.09px;width:368.80px;background:#9a3a0b"></div>
<div class="seg" style="left:591px;top:3143.09px;width:252.70px;background:#fe9530"></div>
<div class="seg" style="left:591px;top:3143.09px;width:94.00px;background:#e25600"></div>
<div class="t" style="left:637.58px;top:3147.07px;font-size:22px;line-height:22px;font-weight:400;color:#fde2cf;transform:scaleX(0.9300);">19%</div>
<div class="t" style="left:796.28px;top:3147.07px;font-size:22px;line-height:22px;font-weight:400;color:#2e1e0e;transform:scaleX(0.9300);">31%</div>
<div class="t" style="left:912.38px;top:3147.07px;font-size:22px;line-height:22px;font-weight:400;color:#fcdcc8;transform:scaleX(0.9300);">23%</div>
<div class="tick" style="top:3139.29px"></div>
<div class="sep" style="top:3195.16px"></div>
<div class="t" style="left:122.35px;top:3222.54px;font-size:22px;line-height:22px;font-weight:400;color:#444;transform:scaleX(0.9850);">Virginia</div>
<div class="t" style="left:418.94px;top:3222.74px;font-size:22px;line-height:22px;font-weight:400;color:#444;transform:scaleX(0.9300);">73%</div>
<div class="seg" style="left:591px;top:3219.26px;width:367.80px;background:#4c1a05"></div>
<div class="seg" style="left:591px;top:3219.26px;width:362.30px;background:#9a3a0b"></div>
<div class="seg" style="left:591px;top:3219.26px;width:261.00px;background:#fe9530"></div>
<div class="seg" style="left:591px;top:3219.26px;width:145.00px;background:#e25600"></div>
<div class="t" style="left:688.58px;top:3223.24px;font-size:22px;line-height:22px;font-weight:400;color:#fde2cf;transform:scaleX(0.9300);">29%</div>
<div class="t" style="left:804.58px;top:3223.24px;font-size:22px;line-height:22px;font-weight:400;color:#2e1e0e;transform:scaleX(0.9300);">23%</div>
<div class="t" style="left:905.88px;top:3223.24px;font-size:22px;line-height:22px;font-weight:400;color:#fcdcc8;transform:scaleX(0.9300);">20%</div>
<div class="tick" style="top:3215.46px"></div>
<div class="sep" style="top:3271.33px"></div>
<div class="t" style="left:101.71px;top:3298.71px;font-size:22px;line-height:22px;font-weight:400;color:#444;transform:scaleX(0.9850);">New Jersey</div>
<div class="t" style="left:418.94px;top:3298.91px;font-size:22px;line-height:22px;font-weight:400;color:#444;transform:scaleX(0.9300);">72%</div>
<div class="seg" style="left:591px;top:3295.43px;width:367.80px;background:#4c1a05"></div>
<div class="seg" style="left:591px;top:3295.43px;width:362.30px;background:#9a3a0b"></div>
<div class="seg" style="left:591px;top:3295.43px;width:292.60px;background:#fe9530"></div>
<div class="seg" style="left:591px;top:3295.43px;width:165.40px;background:#e25600"></div>
<div class="t" style="left:708.98px;top:3299.41px;font-size:22px;line-height:22px;font-weight:400;color:#fde2cf;transform:scaleX(0.9300);">33%</div>
<div class="t" style="left:836.18px;top:3299.41px;font-size:22px;line-height:22px;font-weight:400;color:#2e1e0e;transform:scaleX(0.9300);">25%</div>
<div class="t" style="left:905.88px;top:3299.41px;font-size:22px;line-height:22px;font-weight:400;color:#fcdcc8;transform:scaleX(0.9300);">14%</div>
<div class="tick" style="top:3291.63px"></div>
<div class="sep" style="top:3347.50px"></div>
<div class="t" style="left:114.32px;top:3374.88px;font-size:22px;line-height:22px;font-weight:400;color:#444;transform:scaleX(0.9850);">Colorado</div>
<div class="t" style="left:418.94px;top:3375.08px;font-size:22px;line-height:22px;font-weight:400;color:#444;transform:scaleX(0.9300);">70%</div>
<div class="seg" style="left:591px;top:3371.60px;width:352.00px;background:#4c1a05"></div>
<div class="seg" style="left:591px;top:3371.60px;width:346.50px;background:#9a3a0b"></div>
<div class="seg" style="left:591px;top:3371.60px;width:221.10px;background:#fe9530"></div>
<div class="seg" style="left:591px;top:3371.60px;width:104.10px;background:#e25600"></div>
<div class="t" style="left:647.68px;top:3375.58px;font-size:22px;line-height:22px;font-weight:400;color:#fde2cf;transform:scaleX(0.9300);">21%</div>
<div class="t" style="left:764.68px;top:3375.58px;font-size:22px;line-height:22px;font-weight:400;color:#2e1e0e;transform:scaleX(0.9300);">23%</div>
<div class="t" style="left:890.08px;top:3375.58px;font-size:22px;line-height:22px;font-weight:400;color:#fcdcc8;transform:scaleX(0.9300);">24%</div>
<div class="tick" style="top:3367.80px"></div>
<div class="sep" style="top:3423.67px"></div>
<div class="t" style="left:94.42px;top:3451.05px;font-size:22px;line-height:22px;font-weight:400;color:#444;transform:scaleX(0.9850);">Rhode Island</div>
<div class="t" style="left:418.94px;top:3451.25px;font-size:22px;line-height:22px;font-weight:400;color:#444;transform:scaleX(0.9300);">69%</div>
<div class="seg" style="left:591px;top:3447.77px;width:347.80px;background:#4c1a05"></div>
<div class="seg" style="left:591px;top:3447.77px;width:347.80px;background:#9a3a0b"></div>
<div class="seg" style="left:591px;top:3447.77px;width:266.60px;background:#fe9530"></div>
<div class="seg" style="left:591px;top:3447.77px;width:134.80px;background:#e25600"></div>
<div class="t" style="left:678.38px;top:3451.75px;font-size:22px;line-height:22px;font-weight:400;color:#fde2cf;transform:scaleX(0.9300);">27%</div>
<div class="t" style="left:810.18px;top:3451.75px;font-size:22px;line-height:22px;font-weight:400;color:#2e1e0e;transform:scaleX(0.9300);">26%</div>
<div class="t" style="left:891.38px;top:3451.75px;font-size:22px;line-height:22px;font-weight:400;color:#fcdcc8;transform:scaleX(0.9300);">16%</div>
<div class="tick" style="top:3443.97px"></div>
<div class="sep" style="top:3499.84px"></div>
<div class="t" style="left:113.73px;top:3527.22px;font-size:22px;line-height:22px;font-weight:400;color:#444;transform:scaleX(0.9850);">Maryland</div>
<div class="t" style="left:418.94px;top:3527.42px;font-size:22px;line-height:22px;font-weight:400;color:#444;transform:scaleX(0.9300);">68%</div>
<div class="seg" style="left:591px;top:3523.94px;width:341.80px;background:#4c1a05"></div>
<div class="seg" style="left:591px;top:3523.94px;width:337.20px;background:#9a3a0b"></div>
<div class="seg" style="left:591px;top:3523.94px;width:221.10px;background:#fe9530"></div>
<div class="seg" style="left:591px;top:3523.94px;width:104.10px;background:#e25600"></div>
<div class="t" style="left:647.68px;top:3527.92px;font-size:22px;line-height:22px;font-weight:400;color:#fde2cf;transform:scaleX(0.9300);">21%</div>
<div class="t" style="left:764.68px;top:3527.92px;font-size:22px;line-height:22px;font-weight:400;color:#2e1e0e;transform:scaleX(0.9300);">23%</div>
<div class="t" style="left:880.78px;top:3527.92px;font-size:22px;line-height:22px;font-weight:400;color:#fcdcc8;transform:scaleX(0.9300);">23%</div>
<div class="tick" style="top:3520.14px"></div>
<div class="sep" style="top:3576.01px"></div>
<div class="t" style="left:86.05px;top:3603.39px;font-size:22px;line-height:22px;font-weight:400;color:#444;transform:scaleX(0.9850);">Massachusetts</div>
<div class="t" style="left:418.94px;top:3603.59px;font-size:22px;line-height:22px;font-weight:400;color:#444;transform:scaleX(0.9300);">67%</div>
<div class="seg" style="left:591px;top:3600.11px;width:331.60px;background:#4c1a05"></div>
<div class="seg" style="left:591px;top:3600.11px;width:331.60px;background:#9a3a0b"></div>
<div class="seg" style="left:591px;top:3600.11px;width:251.80px;background:#fe9530"></div>
<div class="seg" style="left:591px;top:3600.11px;width:159.90px;background:#e25600"></div>
<div class="t" style="left:703.48px;top:3604.09px;font-size:22px;line-height:22px;font-weight:400;color:#fde2cf;transform:scaleX(0.9300);">32%</div>
<div class="t" style="left:795.38px;top:3604.09px;font-size:22px;line-height:22px;font-weight:400;color:#2e1e0e;transform:scaleX(0.9300);">18%</div>
<div class="t" style="left:875.18px;top:3604.09px;font-size:22px;line-height:22px;font-weight:400;color:#fcdcc8;transform:scaleX(0.9300);">16%</div>
<div class="tick" style="top:3596.31px"></div>
<div class="sep" style="top:3652.18px"></div>
<div class="t" style="left:112.55px;top:3679.56px;font-size:22px;line-height:22px;font-weight:400;color:#444;transform:scaleX(0.9850);">Delaware</div>
<div class="t" style="left:418.94px;top:3679.76px;font-size:22px;line-height:22px;font-weight:400;color:#444;transform:scaleX(0.9300);">62%</div>
<div class="seg" style="left:591px;top:3676.28px;width:317.10px;background:#4c1a05"></div>
<div class="seg" style="left:591px;top:3676.28px;width:317.10px;background:#9a3a0b"></div>
<div class="seg" style="left:591px;top:3676.28px;width:236.00px;background:#fe9530"></div>
<div class="seg" style="left:591px;top:3676.28px;width:145.00px;background:#e25600"></div>
<div class="t" style="left:688.58px;top:3680.26px;font-size:22px;line-height:22px;font-weight:400;color:#fde2cf;transform:scaleX(0.9300);">29%</div>
<div class="t" style="left:779.58px;top:3680.26px;font-size:22px;line-height:22px;font-weight:400;color:#2e1e0e;transform:scaleX(0.9300);">18%</div>
<div class="t" style="left:860.68px;top:3680.26px;font-size:22px;line-height:22px;font-weight:400;color:#fcdcc8;transform:scaleX(0.9300);">16%</div>
<div class="tick" style="top:3672.48px"></div>
<div class="sep" style="top:3728.35px"></div>
<div class="t" style="left:125.80px;top:3755.73px;font-size:22px;line-height:22px;font-weight:400;color:#444;transform:scaleX(0.9850);">Hawaii</div>
<div class="t" style="left:418.94px;top:3755.93px;font-size:22px;line-height:22px;font-weight:400;color:#444;transform:scaleX(0.9300);">62%</div>
<div class="seg" style="left:591px;top:3752.45px;width:312.00px;background:#4c1a05"></div>
<div class="seg" style="left:591px;top:3752.45px;width:302.00px;background:#9a3a0b"></div>
<div class="seg" style="left:591px;top:3752.45px;width:180.30px;background:#fe9530"></div>
<div class="seg" style="left:591px;top:3752.45px;width:32.60px;background:#e25600"></div>
<div class="t" style="left:723.88px;top:3756.43px;font-size:22px;line-height:22px;font-weight:400;color:#2e1e0e;transform:scaleX(0.9300);">29%</div>
<div class="t" style="left:845.58px;top:3756.43px;font-size:22px;line-height:22px;font-weight:400;color:#fcdcc8;transform:scaleX(0.9300);">24%</div>
<div class="tick" style="top:3748.65px"></div>
<div class="sep" style="top:3804.52px"></div>
<div class="t" style="left:99.30px;top:3831.90px;font-size:22px;line-height:22px;font-weight:400;color:#444;transform:scaleX(0.9850);">New Mexico</div>
<div class="t" style="left:418.94px;top:3832.10px;font-size:22px;line-height:22px;font-weight:400;color:#444;transform:scaleX(0.9300);">62%</div>
<div class="seg" style="left:591px;top:3828.62px;width:312.00px;background:#4c1a05"></div>
<div class="seg" style="left:591px;top:3828.62px;width:276.80px;background:#9a3a0b"></div>
<div class="seg" style="left:591px;top:3828.62px;width:190.50px;background:#fe9530"></div>
<div class="seg" style="left:591px;top:3828.62px;width:74.40px;background:#e25600"></div>
<div class="t" style="left:617.98px;top:3832.60px;font-size:22px;line-height:22px;font-weight:400;color:#fde2cf;transform:scaleX(0.9300);">15%</div>
<div class="t" style="left:734.08px;top:3832.60px;font-size:22px;line-height:22px;font-weight:400;color:#2e1e0e;transform:scaleX(0.9300);">23%</div>
<div class="t" style="left:820.38px;top:3832.60px;font-size:22px;line-height:22px;font-weight:400;color:#fcdcc8;transform:scaleX(0.9300);">17%</div>
<div class="tick" style="top:3824.82px"></div>
<div class="sep" style="top:3880.69px"></div>
<div class="t" style="left:125.75px;top:3908.07px;font-size:22px;line-height:22px;font-weight:400;color:#444;transform:scaleX(0.9850);">Alaska</div>
<div class="t" style="left:418.94px;top:3908.27px;font-size:22px;line-height:22px;font-weight:400;color:#444;transform:scaleX(0.9300);">55%</div>
<div class="seg" style="left:591px;top:3904.79px;width:276.00px;background:#4c1a05"></div>
<div class="seg" style="left:591px;top:3904.79px;width:261.00px;background:#9a3a0b"></div>
<div class="seg" style="left:591px;top:3904.79px;width:150.60px;background:#fe9530"></div>
<div class="seg" style="left:591px;top:3904.79px;width:49.40px;background:#e25600"></div>
<div class="t" style="left:592.98px;top:3908.77px;font-size:22px;line-height:22px;font-weight:400;color:#fde2cf;transform:scaleX(0.9300);">10%</div>
<div class="t" style="left:694.18px;top:3908.77px;font-size:22px;line-height:22px;font-weight:400;color:#2e1e0e;transform:scaleX(0.9300);">20%</div>
<div class="t" style="left:804.58px;top:3908.77px;font-size:22px;line-height:22px;font-weight:400;color:#fcdcc8;transform:scaleX(0.9300);">22%</div>
<div class="tick" style="top:3900.99px"></div>
<div class="sep" style="top:3956.86px"></div>
<div class="t" style="left:113.24px;top:3984.24px;font-size:22px;line-height:22px;font-weight:400;color:#444;transform:scaleX(0.9850);">Wyoming</div>
<div class="t" style="left:418.94px;top:3984.44px;font-size:22px;line-height:22px;font-weight:400;color:#444;transform:scaleX(0.9300);">49%</div>
<div class="seg" style="left:591px;top:3980.96px;width:241.00px;background:#4c1a05"></div>
<div class="seg" style="left:591px;top:3980.96px;width:241.00px;background:#9a3a0b"></div>
<div class="seg" style="left:591px;top:3980.96px;width:119.80px;background:#fe9530"></div>
<div class="t" style="left:663.38px;top:3984.94px;font-size:22px;line-height:22px;font-weight:400;color:#2e1e0e;transform:scaleX(0.9300);">24%</div>
<div class="t" style="left:784.58px;top:3984.94px;font-size:22px;line-height:22px;font-weight:400;color:#fcdcc8;transform:scaleX(0.9300);">24%</div>
<div class="tick" style="top:3977.16px"></div>
<div class="sep" style="top:4033.03px"></div>
<div class="t" style="left:112.50px;top:4060.41px;font-size:22px;line-height:22px;font-weight:400;color:#444;transform:scaleX(0.9850);">New York</div>
<div class="t" style="left:418.94px;top:4060.61px;font-size:22px;line-height:22px;font-weight:400;color:#444;transform:scaleX(0.9300);">47%</div>
<div class="seg" style="left:591px;top:4057.13px;width:241.00px;background:#4c1a05"></div>
<div class="seg" style="left:591px;top:4057.13px;width:235.30px;background:#9a3a0b"></div>
<div class="seg" style="left:591px;top:4057.13px;width:176.20px;background:#fe9530"></div>
<div class="seg" style="left:591px;top:4057.13px;width:79.70px;background:#e25600"></div>
<div class="t" style="left:623.28px;top:4061.11px;font-size:22px;line-height:22px;font-weight:400;color:#fde2cf;transform:scaleX(0.9300);">16%</div>
<div class="t" style="left:719.78px;top:4061.11px;font-size:22px;line-height:22px;font-weight:400;color:#2e1e0e;transform:scaleX(0.9300);">19%</div>
<div class="t" style="left:778.88px;top:4061.11px;font-size:22px;line-height:22px;font-weight:400;color:#fcdcc8;transform:scaleX(0.9300);">12%</div>
<div class="tick" style="top:4053.33px"></div>
<div class="sep" style="top:4109.20px"></div>
<div class="t" style="left:19.00px;top:4158.78px;font-size:22px;line-height:22px;font-weight:400;color:#595959;transform:scaleX(0.9565);">Source:</div>
<div class="t" style="left:98.30px;top:4158.78px;font-size:22px;line-height:22px;font-weight:400;color:#595959;transform:scaleX(0.8575);">U.S.</div>
<div class="t" style="left:142.40px;top:4158.78px;font-size:22px;line-height:22px;font-weight:400;color:#595959;transform:scaleX(0.9887);">Bureau</div>
<div class="t" style="left:219.30px;top:4158.78px;font-size:22px;line-height:22px;font-weight:400;color:#595959;transform:scaleX(1.0054);">of</div>
<div class="t" style="left:243.30px;top:4158.78px;font-size:22px;line-height:22px;font-weight:400;color:#595959;transform:scaleX(1.0124);">Economic</div>
<div class="t" style="left:347.40px;top:4158.78px;font-size:22px;line-height:22px;font-weight:400;color:#595959;transform:scaleX(0.9621);">Analysis</div>
<div class="t" style="left:431.10px;top:4161.76px;font-size:16px;line-height:16px;font-weight:400;color:#595959;transform:scaleX(1.0000);">•</div>
<div class="t" style="left:442.50px;top:4158.78px;font-size:22px;line-height:22px;font-weight:400;color:#595959;transform:scaleX(0.9314);">The</div>
<div class="t" style="left:485.00px;top:4158.78px;font-size:22px;line-height:22px;font-weight:400;color:#595959;transform:scaleX(1.0096);">sum</div>
<div class="t" style="left:533.90px;top:4158.78px;font-size:22px;line-height:22px;font-weight:400;color:#595959;transform:scaleX(0.9565);">of</div>
<div class="t" style="left:557.00px;top:4158.78px;font-size:22px;line-height:22px;font-weight:400;color:#595959;transform:scaleX(1.0584);">industry</div>
<div class="t" style="left:645.30px;top:4158.78px;font-size:22px;line-height:22px;font-weight:400;color:#595959;transform:scaleX(0.8260);">GDP</div>
<div class="t" style="left:693.20px;top:4158.78px;font-size:22px;line-height:22px;font-weight:400;color:#595959;transform:scaleX(1.0457);">contributions</div>
<div class="t" style="left:830.40px;top:4158.78px;font-size:22px;line-height:22px;font-weight:400;color:#595959;transform:scaleX(0.8817);">can</div>
<div class="t" style="left:868.50px;top:4158.78px;font-size:22px;line-height:22px;font-weight:400;color:#595959;transform:scaleX(1.0769);">total</div>
<div class="t" style="left:922.20px;top:4158.78px;font-size:22px;line-height:22px;font-weight:400;color:#595959;transform:scaleX(0.9780);">more</div>
<div class="t" style="left:977.40px;top:4158.78px;font-size:22px;line-height:22px;font-weight:400;color:#595959;transform:scaleX(1.0607);">than</div>
<div class="t" style="left:1029.60px;top:4158.78px;font-size:22px;line-height:22px;font-weight:400;color:#595959;transform:scaleX(0.9663);">100%</div>
<div class="t" style="left:1090.80px;top:4158.78px;font-size:22px;line-height:22px;font-weight:400;color:#595959;transform:scaleX(1.0354);">due</div>
<div class="t" style="left:1133.00px;top:4158.78px;font-size:22px;line-height:22px;font-weight:400;color:#595959;transform:scaleX(0.9235);">to</div>
<div class="t" style="left:1156.70px;top:4158.78px;font-size:22px;line-height:22px;font-weight:400;color:#595959;transform:scaleX(1.0766);">industry</div>
<div class="t" style="left:1245.60px;top:4158.78px;font-size:22px;line-height:22px;font-weight:400;color:#595959;transform:scaleX(1.0000);">overlap.</div>
</div></body></html>
